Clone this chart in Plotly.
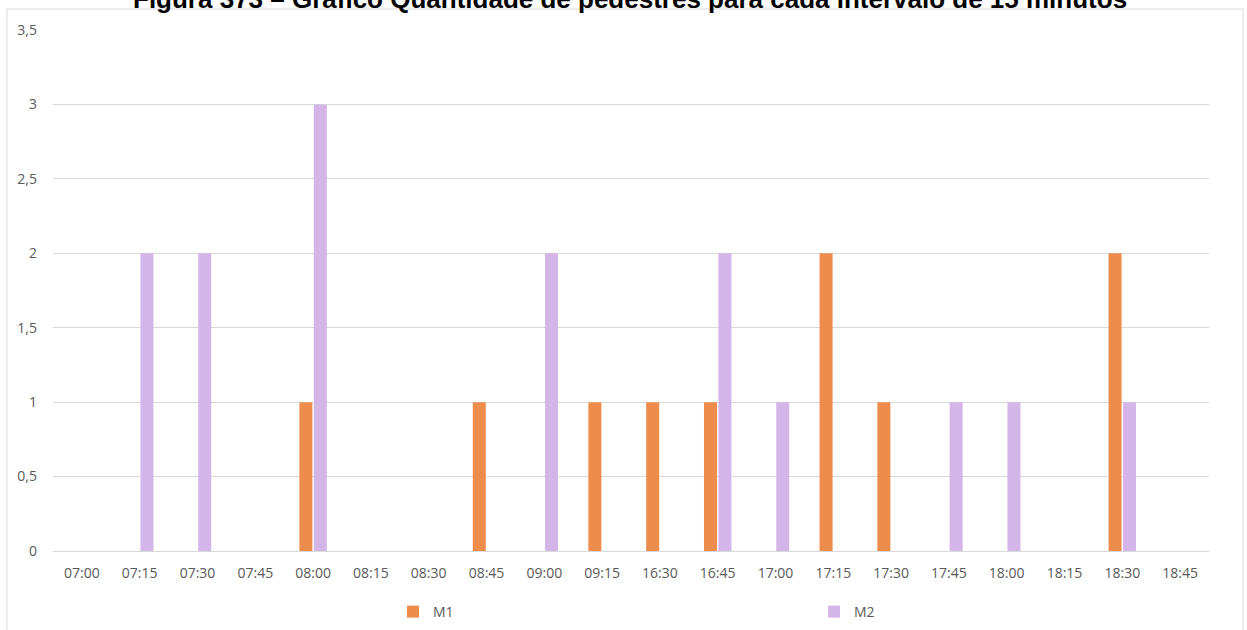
import plotly.graph_objects as go

categories = ["07:00", "07:15", "07:30", "07:45", "08:00", "08:15", "08:30", "08:45", "09:00", "09:15",
              "16:30", "16:45", "17:00", "17:15", "17:30", "17:45", "18:00", "18:15", "18:30", "18:45"]
m1 = [None, None, None, None, 1, None, None, 1, None, 1,
      1, 1, None, 2, 1, None, None, None, 2, None]
m2 = [None, 2, 2, None, 3, None, None, None, 2, None,
      None, 2, 1, None, None, 1, 1, None, 1, None]
title_text = "Figura 373 – Gráfico Quantidade de pedestres para cada intervalo de 15 minutos"

W, H = 1247, 630
L, R, T, B = 53, 38, 30, 79
pw, ph = W - L - R, H - T - B

def px(x):
    return (x - L) / pw

def py(y):
    return 1 - (y - T) / ph

fig = go.Figure()
fig.add_trace(go.Bar(name="M1", x=categories, y=m1, marker_color="#EE8C4B", marker_line_width=0))
fig.add_trace(go.Bar(name="M2", x=categories, y=m2, marker_color="#D4B5E8", marker_line_width=0))

fig.update_layout(
    width=W, height=H,
    margin=dict(l=L, r=R, t=T, b=B, autoexpand=False),
    paper_bgcolor="white", plot_bgcolor="white",
    separators=", ",
    barmode="group", bargap=0.5, bargroupgap=0.1,
    font=dict(family="Open Sans", size=14, color="#595959"),
    showlegend=True,
    legend=dict(orientation="h", x=px(393), xanchor="left", y=py(612), yanchor="middle",
                entrywidth=376, entrywidthmode="pixels", itemwidth=30,
                font=dict(size=14, color="#595959"), traceorder="normal"),
    xaxis=dict(type="category", showgrid=False, showline=False, ticks="", automargin=False,
               ticklabelstandoff=12,
               tickfont=dict(size=14, color="#595959")),
    yaxis=dict(range=[0, 3.5], dtick=0.5, showgrid=True, gridcolor="#D9D9D9", gridwidth=1,
               zeroline=True, zerolinecolor="#D9D9D9", zerolinewidth=1, showline=False,
               ticks="", ticklabelstandoff=15, automargin=False,
               tickfont=dict(size=14, color="#595959")),
    shapes=[dict(type="rect", xref="paper", yref="paper",
                 x0=px(7), x1=px(1243), y0=py(700), y1=py(9),
                 line=dict(color="#D9D9D9", width=1), fillcolor="rgba(0,0,0,0)", layer="below")],
    annotations=[dict(text="<b>" + title_text + "</b>", xref="paper", yref="paper",
                      x=px(630), y=py(-1), xanchor="center", yanchor="middle", showarrow=False,
                      font=dict(family="Liberation Sans", size=26, color="black"))],
)

fig.write_html("out.html", config={"displayModeBar": False},
               post_script="document.body.style.margin='0';")
